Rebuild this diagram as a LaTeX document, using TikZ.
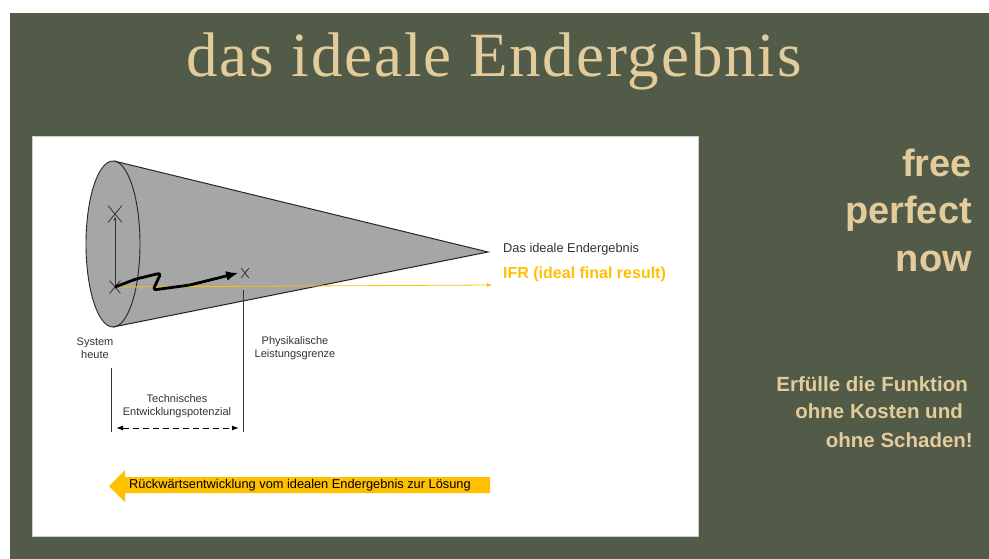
\documentclass[tikz,border=0pt]{standalone}
\usepackage{fontspec}
\setmainfont{Liberation Sans}
\newfontfamily\titlefont[LetterSpace=3]{Liberation Serif}
\usetikzlibrary{arrows.meta,shapes.misc}
\definecolor{bgdark}{HTML}{525A48}
\definecolor{beige}{HTML}{E3CC9B}
\definecolor{conegray}{HTML}{A6A6A6}
\definecolor{gold}{HTML}{FFC000}
\definecolor{txt}{HTML}{333333}
\tikzset{
  titlestyle/.style={text=beige, font=\titlefont\fontsize{63}{66}\selectfont, inner sep=0pt},
  bigword/.style={text=beige, font=\bfseries\fontsize{38}{40}\selectfont, inner sep=0pt},
  smallword/.style={text=beige, font=\bfseries\fontsize{20.5}{22}\selectfont, inner sep=0pt},
  lbl/.style={text=txt, font=\fontsize{11}{13}\selectfont, align=center, inner sep=0pt},
  xmark/.style={cross out, draw=txt, line width=0.8pt, inner sep=0pt},
  edge/.style={draw=black!85, line width=1pt},
  ifr/.style={draw=gold, line width=0.8pt},
}
\begin{document}
\begin{tikzpicture}[x=1pt,y=-1pt]
\useasboundingbox (0,0) rectangle (989,559);
\fill[white] (0,0) rectangle (989,559);
\fill[bgdark] (10,13) rectangle (989,559);
\node[titlestyle, anchor=base] (title) at (494,77) {das ideale Endergebnis};

% white panel
\filldraw[fill=white, draw=gray!40, line width=0.8pt] (32,136) rectangle (698,536);

% cone
\coordinate (apex) at (488,252);
\coordinate (ctop) at (114,161);
\coordinate (cbot) at (113,327);
\fill[conegray] (ctop) -- (apex) -- (cbot) -- cycle;
\filldraw[fill=conegray, draw=black!85, line width=0.9pt] (113,244) ellipse [x radius=27, y radius=83];
\draw[edge] (ctop) -- (apex) -- (cbot);

% marks
\node[xmark, minimum width=13pt, minimum height=16pt] (xup) at (115,214) {};
\node[xmark, minimum width=10pt, minimum height=12pt] (xlow) at (115,287) {};
\node[xmark, minimum width=7pt, minimum height=9pt] (xlim) at (245,273) {};
\draw[txt, line width=0.7pt, -{Latex[length=4pt,width=3pt]}] (xlow.center) -- ([yshift=6pt]xup.south);

% IFR line
\coordinate (ifrend) at (492,285);
\draw[ifr, -{Latex[length=5pt,width=4pt]}] (xlow.center) -- (ifrend);

% zigzag
\draw[black, line width=2.8pt, line join=round, rounded corners=3pt,
      -{Latex[length=12pt,width=10pt]}]
  (xlow.center) -- (136,279) -- (161,273) -- (153,290) -- (190,285) -- ([xshift=-3pt]xlim.west);

% vertical limit lines
\coordinate (limtop) at (243,290);
\coordinate (limbot) at (243,432);
\coordinate (systop) at (111,368);
\coordinate (sysbot) at (111,432);
\draw[txt, line width=1pt] (limtop) -- (limbot);
\draw[txt, line width=1pt] (systop) -- (sysbot);

% dashed double arrow
\coordinate (dl) at (116,428);
\coordinate (dr) at (239,428);
\draw[black, line width=1pt, dash pattern=on 6pt off 4pt,
      {Latex[length=7pt,width=5pt]}-{Latex[length=7pt,width=5pt]}] (dl) -- (dr);

% labels
\node[lbl] (sys) at (95,348.5) {System\\heute};
\node[lbl] (phys) at (295,348.5) {Physikalische\\Leistungsgrenze};
\node[lbl] (tech) at (177,406) {Technisches\\Entwicklungspotenzial};
\node[text=txt, font=\fontsize{12.8}{14}\selectfont, anchor=base west, inner sep=0pt] (ideal) at (503,253) {Das ideale Endergebnis};
\node[text=gold, font=\bfseries\fontsize{16}{18}\selectfont, anchor=base west, inner sep=0pt] (ifrlbl) at (503,279) {IFR (ideal final result)};

% big backward arrow
\fill[gold] (109,486) -- (125,470) -- (125,477) -- (490,477) -- (490,493) -- (125,493) -- (125,502) -- cycle;
\node[text=black, font=\fontsize{12.8}{14}\selectfont, anchor=west, inner sep=0pt] (back) at (129,485.5) {Rückwärtsentwicklung vom idealen Endergebnis zur Lösung};

% right side
\node[bigword, anchor=base east] (free) at (972,177) {free};
\node[bigword, anchor=base east] (perf) at (972,224) {perfect};
\node[bigword, anchor=base east] (now) at (972,272) {now};
\node[smallword, anchor=base east] (l1) at (968,391) {Erfülle die Funktion};
\node[smallword, anchor=base east] (l2) at (963,418) {ohne Kosten und};
\node[smallword, anchor=base east] (l3) at (973,447) {ohne Schaden!};
\end{tikzpicture}
\end{document}
